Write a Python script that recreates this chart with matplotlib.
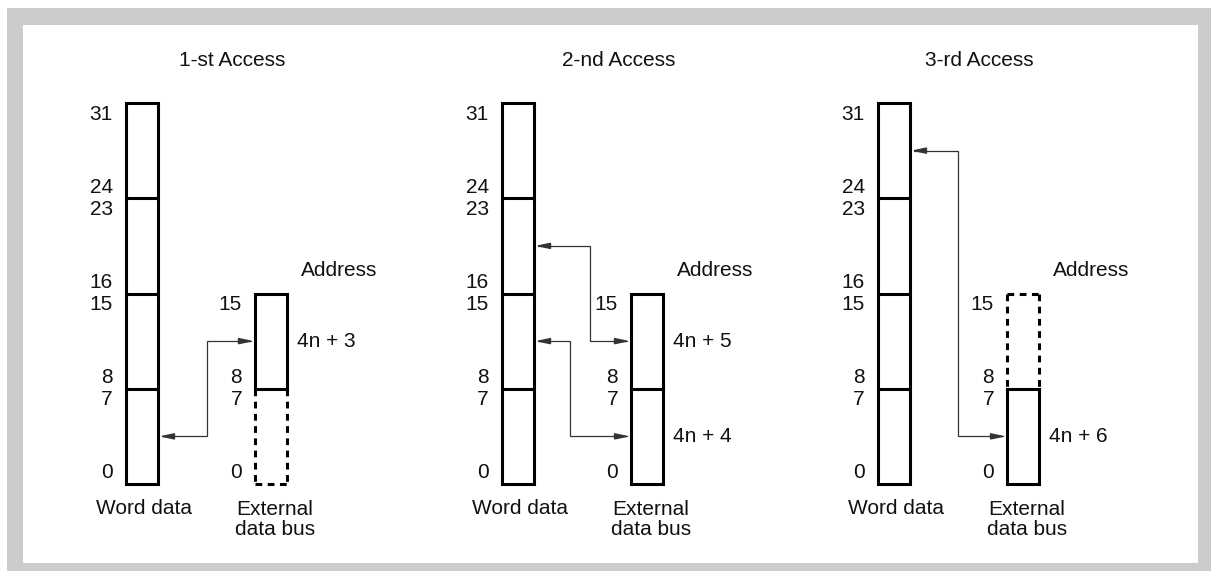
import matplotlib
matplotlib.use("Agg")
import matplotlib.pyplot as plt
from matplotlib.patches import Rectangle, FancyArrowPatch
from matplotlib.path import Path
from matplotlib.lines import Line2D

plt.rcParams['font.family'] = ['Liberation Sans', 'DejaVu Sans']

# ---- data ----
titles = ["1-st Access", "2-nd Access", "3-rd Access"]
word_bit_labels = [["0", "7"], ["8", "15"], ["16", "23"], ["24", "31"]]   # per byte: (low, high)
bus_bit_labels = [["0", "7"], ["8", "15"]]
# bus byte states per panel: (low byte solid?, high byte solid?)
bus_low_solid = [False, True, True]
bus_high_solid = [True, True, False]
# address labels per panel: (bus byte index, text)
address_labels = [[(1, "4n + 3")], [(1, "4n + 5"), (0, "4n + 4")], [(0, "4n + 6")]]
# transfers per panel: (word byte index, bus byte index, elbow offset from bus left in px)
transfers = [[(0, 1, -48)], [(2, 1, -41), (1, 0, -61)], [(3, 0, -49)]]
word_caption = "Word data"
bus_caption = "External\ndata bus"
address_title = "Address"

# ---- layout ----
W, H = 1211, 571
fig = plt.figure(figsize=(W / 100, H / 100), dpi=100)
ax = fig.add_axes([0, 0, 1, 1])
ax.set_xlim(0, W)
ax.set_ylim(H, 0)
ax.axis("off")

GRAY = "#cccccc"
INK = "#111111"
ax.add_patch(Rectangle((7, 8), W - 7, H - 8, facecolor=GRAY, edgecolor="none", zorder=0))
ax.add_patch(Rectangle((23, 25), 1198 - 23, 563 - 25, facecolor="white", edgecolor="none", zorder=0.5))

Y0 = 484.0          # bit 0 baseline (bottom)
BIT = (484.0 - 103.0) / 32.0
def ybit(b):
    return Y0 - b * BIT

panel_dx = [0, 376, 752]
title_cx = [232, 619, 979]
WORD_L, WORD_W = 126, 32
BUS_L, BUS_W = 255, 32
LW = 2.2
FS = 15

for p in range(3):
    dx = panel_dx[p]
    wl = WORD_L + dx
    bl = BUS_L + dx
    ax.text(title_cx[p], 60, titles[p], ha="center", va="center", fontsize=FS, color=INK)

    # word bar
    ax.add_patch(Rectangle((wl, ybit(32)), WORD_W, 32 * BIT, fill=False, lw=LW, edgecolor="black", zorder=3))
    for k in (1, 2, 3):
        ax.add_line(Line2D([wl, wl + WORD_W], [ybit(8 * k)] * 2, lw=LW, color="black", zorder=3))
    for k, (lo, hi) in enumerate(word_bit_labels):
        ax.text(wl - 13, ybit(8 * k + 8) + 11, hi, ha="right", va="center", fontsize=FS, color=INK)
        ax.text(wl - 13, ybit(8 * k) - 11, lo, ha="right", va="center", fontsize=FS, color=INK)

    # bus bar
    for k, solid in enumerate([bus_low_solid[p], bus_high_solid[p]]):
        yt, yb = ybit(8 * k + 8), ybit(8 * k)
        ls = "-" if solid else (0, (2.2, 1.8))
        cap = "projecting" if solid else "butt"
        ax.add_line(Line2D([bl, bl], [yt, yb], lw=LW, color="black", ls=ls, zorder=3, solid_capstyle=cap))
        ax.add_line(Line2D([bl + BUS_W, bl + BUS_W], [yt, yb], lw=LW, color="black", ls=ls, zorder=3, solid_capstyle=cap))
        outer = yb if k == 0 else yt
        ax.add_line(Line2D([bl, bl + BUS_W], [outer, outer], lw=LW, color="black", ls=ls, zorder=3, solid_capstyle=cap))
    ax.add_line(Line2D([bl, bl + BUS_W], [ybit(8)] * 2, lw=LW, color="black", zorder=3))
    for k, (lo, hi) in enumerate(bus_bit_labels):
        ax.text(bl - 13, ybit(8 * k + 8) + 11, hi, ha="right", va="center", fontsize=FS, color=INK)
        ax.text(bl - 13, ybit(8 * k) - 11, lo, ha="right", va="center", fontsize=FS, color=INK)

    ax.text(bl + 46, ybit(16) - 23, address_title, ha="left", va="center", fontsize=FS, color=INK)
    for byte, txt in address_labels[p]:
        ax.text(bl + BUS_W + 10, ybit(8 * byte + 4), txt, ha="left", va="center", fontsize=FS, color=INK)

    # transfers
    for wbyte, bbyte, elbow in transfers[p]:
        yw = ybit(8 * wbyte + 4)
        yb_ = ybit(8 * bbyte + 4)
        xe = bl + elbow
        path = Path([(wl + WORD_W + 1, yw), (xe, yw), (xe, yb_), (bl - 1, yb_)],
                    [Path.MOVETO, Path.LINETO, Path.LINETO, Path.LINETO])
        arr = FancyArrowPatch(path=path, arrowstyle="<|-|>,head_length=9,head_width=1.9",
                              mutation_scale=1, lw=0.9, color="#333333",
                              shrinkA=0, shrinkB=0, zorder=4, joinstyle="miter")
        ax.add_patch(arr)

    ax.text(wl + WORD_W / 2 + 2.5, 508, word_caption, ha="center", va="center", fontsize=FS, color=INK)
    ax.text(bl + BUS_W / 2 + 4, 519.5, bus_caption, ha="center", va="center", fontsize=FS, color=INK,
            linespacing=1.12, multialignment="center")

fig.savefig("out.png", dpi=100)
